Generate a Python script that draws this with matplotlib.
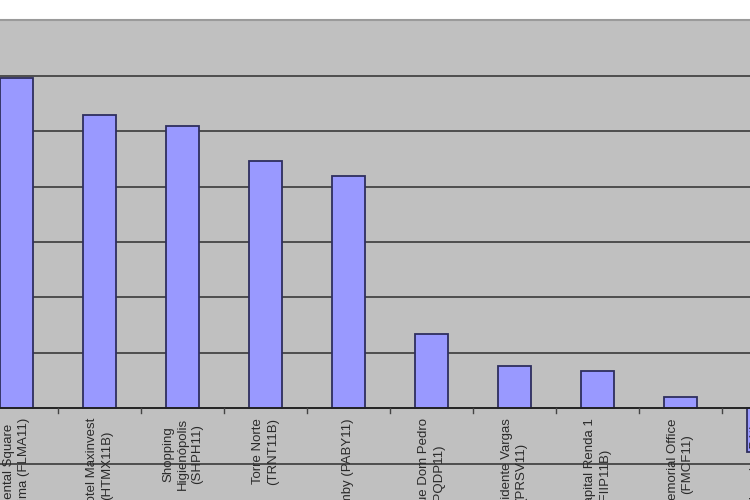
import matplotlib.pyplot as plt
from matplotlib.ticker import MultipleLocator

labels = [
    "Continental Square\nFaria Lima (FLMA11)",
    "Hotel Maxinvest\n(HTMX11B)",
    "Shopping\nHigienópolis\n(SHPH11)",
    "Torre Norte\n(TRNT11B)",
    "Panamby (PABY11)",
    "Parque Dom Pedro\n(PQDP11)",
    "Presidente Vargas\n(PRSV11)",
    "RB Capital Renda 1\n(FIIP11B)",
    "Memorial Office\n(FMCF11)",
    "Shopping Pátio\n(SHPT11)",
]
values = [29.8, 26.5, 25.5, 22.3, 21.0, 6.7, 3.8, 3.4, 1.0, -3.9]

W, H = 750, 500
fig = plt.figure(figsize=(W / 100, H / 100), dpi=100)
fig.patch.set_facecolor("white")

# plot area runs past the left and bottom edges of the picture (cropped chart)
left_px, top_px, cat_px, unit_px = -25, 20.5, 83, 55.4
ymin, ymax = -10, 35
ax_w = cat_px * len(values)
ax_h = unit_px * (ymax - ymin) / 5
ax = fig.add_axes([left_px / W, 1 - (top_px + ax_h) / H, ax_w / W, ax_h / H])
ax.set_facecolor("#c0c0c0")

x = list(range(len(values)))
ax.bar(x, values, width=0.4, color="#9999ff", edgecolor="#2e2e5e", linewidth=1.3, zorder=3)

ax.set_xlim(-0.5, len(values) - 0.5)
ax.set_ylim(ymin, ymax)
ax.yaxis.set_major_locator(MultipleLocator(5))
ax.grid(axis="y", color="#3a3a3a", linewidth=1.2, zorder=1)
ax.axhline(0, color="#222222", linewidth=1.3, zorder=4)
ax.set_yticklabels([])
ax.tick_params(axis="y", length=0)

for s in ax.spines.values():
    s.set_visible(False)
ax.spines["top"].set_visible(True)
ax.spines["top"].set_color("#9a9a9a")
ax.spines["top"].set_linewidth(1.5)

# category tick marks between bars, hanging below the zero line
ax.set_xticks([])
for i in range(len(values)):
    ax.plot([i + 0.5, i + 0.5], [0, -0.4], color="#444444", linewidth=1, zorder=4)

for i, lab in enumerate(labels):
    ax.annotate(lab, xy=(i, 0), xytext=(0, -7), textcoords="offset points",
                rotation=90, ha="center", va="top", multialignment="center",
                linespacing=1.25, fontsize=9.5, family="Liberation Sans",
                color="#2a2a2a", zorder=5)

fig.savefig("out.png", dpi=100)
